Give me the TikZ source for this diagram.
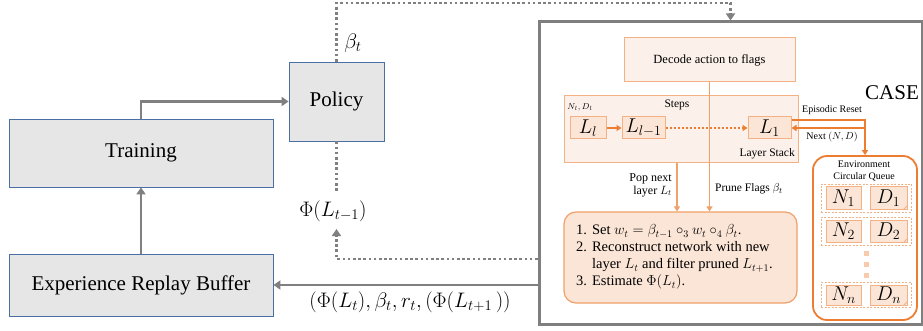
\RequirePackage{fix-cm}
\documentclass[tikz,border=0pt]{standalone}
\usepackage{fontspec}
\setmainfont{Liberation Serif}
\usetikzlibrary{arrows.meta}
\definecolor{gbox}{HTML}{E7E6E6}
\definecolor{gborder}{HTML}{4A6FA5}
\definecolor{garrow}{HTML}{808080}
\definecolor{gframe}{HTML}{7F7F7F}
\definecolor{oline}{HTML}{F4B183}
\definecolor{ofill}{HTML}{FBF0EA}
\definecolor{ofill2}{HTML}{FBE5D6}
\definecolor{oarrow}{HTML}{ED7D31}
\definecolor{omid}{HTML}{F0A068}
\definecolor{odot}{HTML}{F8CBAD}
\begin{document}
\begin{tikzpicture}[x=1pt,y=-1pt,
  graybox/.style={draw=gborder, fill=gbox, line width=0.8pt, inner sep=0pt, font=\fontsize{21}{25}\selectfont},
  garr/.style={draw=garrow, line width=2.2pt, -{Triangle[width=9pt,length=7pt]}},
  gdot/.style={draw=garrow, line width=2.6pt, dash pattern=on 2.6pt off 2.6pt},
  gdotarr/.style={gdot, -{Triangle[width=9pt,length=7pt]}},
  obox/.style={draw=oline, fill=ofill, line width=1pt, inner sep=0pt},
  lbox/.style={draw=oline, fill=ofill2, line width=1pt, inner sep=0pt, font=\fontsize{20}{22}\selectfont},
  rowbox/.style={draw=oline, fill=white, line width=0.8pt, dash pattern=on 2pt off 1.5pt, inner sep=0pt},
  dotsq/.style={fill=odot, minimum size=5pt, inner sep=0pt},
  oarr/.style={draw=oarrow, line width=1.3pt, -{Triangle[width=6pt,length=5pt]}},
  olinearr/.style={draw=omid, line width=1.3pt, -{Triangle[width=6pt,length=5pt]}},
  lbl/.style={inner sep=0pt}
]
\useasboundingbox (0,0) rectangle (923,331);

% ---------- left part ----------
\node[graybox, minimum width=264pt, minimum height=68pt] (training) at (141,153) {Training};
\node[graybox, minimum width=264pt, minimum height=62pt] (exp) at (141,285) {Experience Replay Buffer};
\node[graybox, minimum width=95pt, minimum height=79pt] (policy) at (336.5,101.5) {Policy};

% ---------- CASE frame ----------
\node[draw=gframe, fill=white, line width=3pt, minimum width=383pt, minimum height=302pt, inner sep=0pt] (case) at (730.5,173) {};
\node[lbl, font=\fontsize{21}{25}\selectfont] (caselbl) at (892,93) {CASE};

% gray connectors
\draw[garr] (training.north) |- (policy.west);
\draw[garr] (exp.north) -- (training.south);
\draw[garr] (case.west |- exp.east) -- (exp.east);

\coordinate (topr) at (730.5,3);
\draw[gdotarr] (policy.north) |- (topr) -- (case.north);
\coordinate (bl) at (336.5,259);
\coordinate (phitip) at (336.5,229);
\coordinate (phitop) at (336.5,193);
\draw[gdotarr] (case.west |- bl) -- (bl) -- (phitip);
\draw[gdot] (policy.south) -- (phitop);

\node[lbl, font=\fontsize{21}{23}\selectfont] (beta) at (353,43) {$\beta_t$};
\node[lbl, font=\fontsize{21}{23}\selectfont] (phi) at (333,211) {$\Phi(L_{t-1})$};
\node[lbl, font=\fontsize{21}{23}\selectfont] (tuple) at (410,302) {$(\Phi(L_t),\beta_t,r_t,(\Phi(L_{t+1}\,))$};

% ---------- right part ----------
\node[obox, minimum width=171pt, minimum height=44pt, font=\fontsize{12.5}{14}\selectfont] (decode) at (709.5,60) {Decode action to flags};
\node[obox, minimum width=234pt, minimum height=67pt] (ls) at (681,129.5) {};
\node[lbl, font=\fontsize{8.5}{9}\selectfont] (nd) at (580,107) {$N_l,D_l$};
\node[lbl, font=\fontsize{11.5}{13}\selectfont] (steps) at (677,105) {Steps};
\node[lbl, font=\fontsize{11.5}{13}\selectfont, anchor=east] (lstack) at (795,154) {Layer Stack};

\node[lbox, minimum width=36pt, minimum height=22pt] (Ll) at (588,128) {$L_l$};
\node[lbox, minimum width=43pt, minimum height=22pt] (Llm) at (643.5,128) {$L_{l-1}$};
\node[lbox, minimum width=43pt, minimum height=22pt] (L1) at (769.5,128) {$L_1$};
\draw[oarr] (Ll) -- (Llm);
\draw[oarr, line width=1.6pt, dash pattern=on 2pt off 2pt] (Llm) -- (L1);

\node[draw=omid, fill=ofill2, line width=1.2pt, rounded corners=12pt, minimum width=233pt, minimum height=91pt] (work) at (680.5,257.5) {};
\node[lbl, anchor=west, font=\fontsize{14.5}{17}\selectfont] (worktext) at (576,257) {%
\renewcommand{\arraystretch}{1.0}%
\begin{tabular}{@{}r@{\hspace{5pt}}l@{}}
1. & Set $w_t=\beta_{t-1}\circ_3 w_t\circ_4\beta_t$.\\
2. & Reconstruct network with new\\
   & layer $L_t$ and filter pruned $L_{t+1}$.\\
3. & Estimate $\Phi(L_t)$.
\end{tabular}};

% arrows from layer stack / decode to the work box
\draw[olinearr] (decode.south) -- (decode.south |- work.north);
\draw[olinearr] ([xshift=-4pt]ls.south) -- ([xshift=-4pt]ls.south |- work.north);
\node[lbl, anchor=east, align=right, font=\fontsize{12}{13}\selectfont] (popl) at (672,185) {Pop next\\layer $L_t$};
\node[lbl, font=\fontsize{11.5}{13}\selectfont] (prunel) at (749,189) {Prune Flags $\beta_t$};

% environment queue
\node[draw=oarrow, fill=white, line width=1.8pt, rounded corners=14pt, minimum width=104pt, minimum height=164pt] (env) at (865,238) {};
\node[lbl, align=center, font=\fontsize{10}{12}\selectfont] (envl) at (864,171) {Environment\\Circular Queue};

\node[rowbox, minimum width=90pt, minimum height=28pt] (r1) at (866,198) {};
\node[rowbox, minimum width=90pt, minimum height=28pt] (r2) at (866,231) {};
\node[rowbox, minimum width=90pt, minimum height=25pt] (rn) at (866,294.5) {};
\node[lbox, minimum width=35pt, minimum height=22pt] (N1) at (843.5,198) {$N_1$};
\node[lbox, minimum width=37pt, minimum height=22pt] (D1) at (888.5,198) {$D_1$};
\node[lbox, minimum width=35pt, minimum height=22pt] (N2) at (843.5,231) {$N_2$};
\node[lbox, minimum width=37pt, minimum height=22pt] (D2) at (888.5,231) {$D_2$};
\node[lbox, minimum width=35pt, minimum height=20pt] (Nn) at (843.5,295) {$N_n$};
\node[lbox, minimum width=37pt, minimum height=20pt] (Dn) at (888.5,295) {$D_n$};
\foreach \d in {D1,D2,Dn}{
  \draw[oline, line width=0.8pt] ([xshift=-4pt]\d.south east) -- ([yshift=4pt]\d.south east);
}
\node[dotsq] (q1) at (866,253) {};
\node[dotsq] (q2) at (866,264) {};
\node[dotsq] (q3) at (866,275) {};

% episodic reset / next
\draw[oarr] ([yshift=8pt]L1.east) -| (env.north);
\draw[oarr] (env.north |- L1.east) -- (L1.east);
\node[lbl, font=\fontsize{10}{12}\selectfont] (epl) at (832,110) {Episodic Reset};
\node[lbl, font=\fontsize{10}{12}\selectfont] (nextl) at (832,137) {Next $(N,D)$};
\end{tikzpicture}
\end{document}
